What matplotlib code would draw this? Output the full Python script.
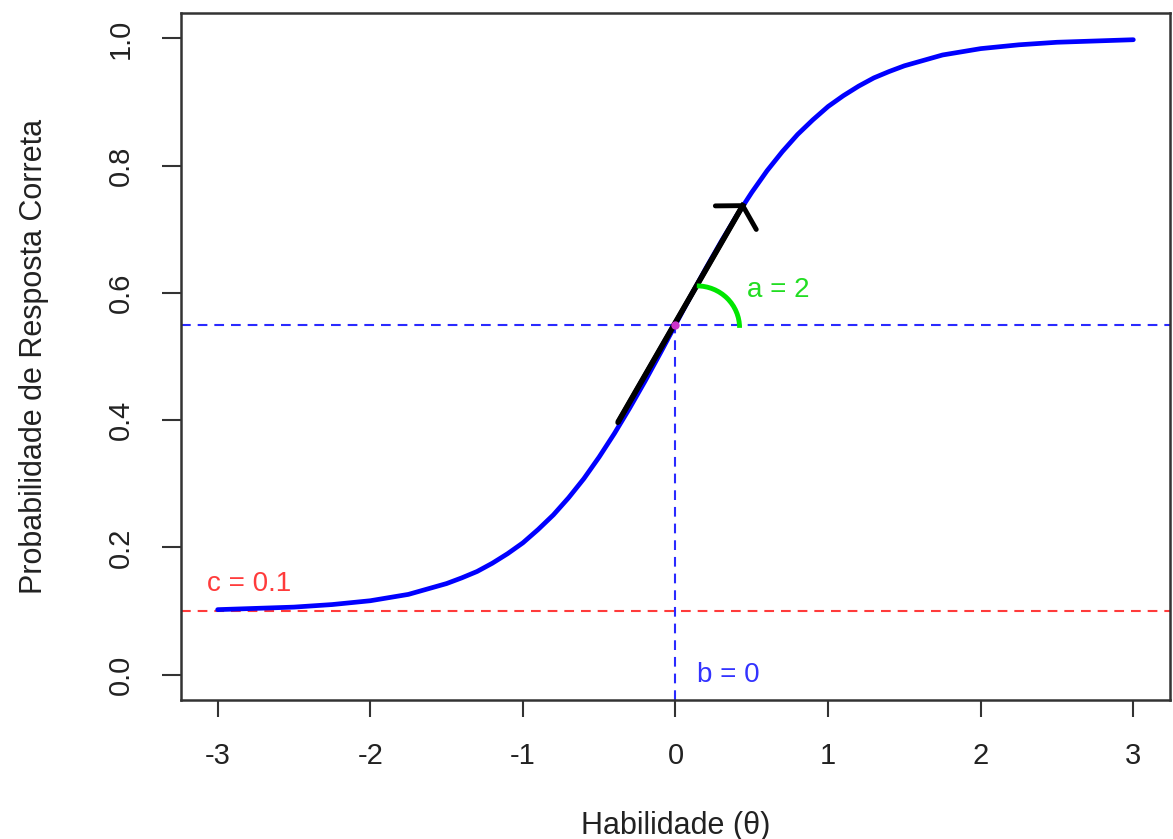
import matplotlib
matplotlib.use("Agg")
import matplotlib.pyplot as plt
from matplotlib.patches import Arc

plt.rcParams['font.family'] = ['Liberation Sans', 'DejaVu Sans']
plt.rcParams['axes.unicode_minus'] = False

# valores (habilidade x probabilidade)
theta = [-3.0, -2.75, -2.5, -2.25, -2.0, -1.75, -1.5, -1.4, -1.3, -1.2, -1.1, -1.0,
         -0.9, -0.8, -0.7, -0.6, -0.5, -0.4, -0.3, -0.2, -0.1, 0.0,
         0.1, 0.2, 0.3, 0.4, 0.5, 0.6, 0.7, 0.8, 0.9, 1.0,
         1.1, 1.2, 1.3, 1.4, 1.5, 1.75, 2.0, 2.25, 2.5, 2.75, 3.0]
prob = [0.102, 0.104, 0.106, 0.110, 0.116, 0.126, 0.143, 0.152, 0.162, 0.175, 0.190, 0.207,
        0.228, 0.251, 0.278, 0.308, 0.342, 0.379, 0.419, 0.461, 0.505, 0.550,
        0.595, 0.639, 0.681, 0.721, 0.758, 0.792, 0.822, 0.849, 0.872, 0.893,
        0.910, 0.925, 0.938, 0.948, 0.957, 0.974, 0.984, 0.990, 0.994, 0.996, 0.998]

# parametros do item
a_param = 2
b_param = 0
c_param = 0.1
p_b = 0.55

# reta tangente (inicio e ponta da seta)
tang_x = [-0.378, 0.45]
tang_y = [0.396, 0.741]

xticks = [-3, -2, -1, 0, 1, 2, 3]
yticks = [0.0, 0.2, 0.4, 0.6, 0.8, 1.0]

fig = plt.figure(figsize=(11.73, 8.39), dpi=100)
ax = fig.add_axes([0.1543, 0.1657, 0.9974 - 0.1543, 0.9845 - 0.1657])

ax.set_xlim(-3.24, 3.24)
ax.set_ylim(-0.04, 1.04)

dash = (7 / 1.5, 5 / 1.5)
ax.axhline(c_param, color='#ff3b3b', lw=1.5, dashes=dash, zorder=1)
ax.axhline(p_b, color='#2a2aff', lw=1.5, dashes=dash, zorder=1)
ax.vlines(b_param, -0.04, p_b, color='#2a2aff', lw=1.5, linestyles=(0, dash), zorder=1)

ax.plot(theta, prob, color='#0000ff', lw=3.4, solid_capstyle='round',
        solid_joinstyle='round', zorder=2)

# tangente com seta
ax.plot(tang_x, tang_y, color='black', lw=4, solid_capstyle='butt', zorder=3)
ax.annotate('', xy=(tang_x[1], tang_y[1]), xytext=(tang_x[0], tang_y[0]),
            arrowprops=dict(arrowstyle='->, head_length=10, head_width=17',
                            mutation_scale=1, color='black', lw=3.5,
                            shrinkA=0, shrinkB=0), zorder=3)

# arco da inclinacao
ax.add_patch(Arc((0.14, 0.545), 2 * 0.28, 2 * 0.066, theta1=0, theta2=90,
                 color='#00e600', lw=3.5, zorder=3))
ax.plot([b_param], [p_b], 'o', color='#cc33cc', ms=5, zorder=4)

ax.text(0.47, 0.604, 'a = %d' % a_param, color='#22dd22', fontsize=20, va='center')
ax.text(-3.07, 0.143, 'c = %.1f' % c_param, color='#ff3b3b', fontsize=20, va='center')
ax.text(0.14, 0.0, 'b = %d' % b_param, color='#3333ff', fontsize=20, va='center')

ax.set_xticks(xticks)
ax.set_xticklabels([str(t) for t in xticks])
ax.set_yticks(yticks)
ax.set_yticklabels(['%.1f' % t for t in yticks], rotation=90, va='center')
ax.tick_params(axis='both', direction='out', width=1.5, colors='#333333',
               labelsize=21, labelcolor='#222222')
ax.tick_params(axis='x', length=12, pad=18)
ax.tick_params(axis='y', length=14, pad=19)

for s in ax.spines.values():
    s.set_color('#333333')
    s.set_linewidth(1.8)

ax.set_xlabel('Habilidade (θ)', fontsize=22, color='#222222', labelpad=30)
ax.set_ylabel('Probabilidade de Resposta Correta', fontsize=22, color='#222222', labelpad=42)

fig.savefig('out.png', dpi=100)
